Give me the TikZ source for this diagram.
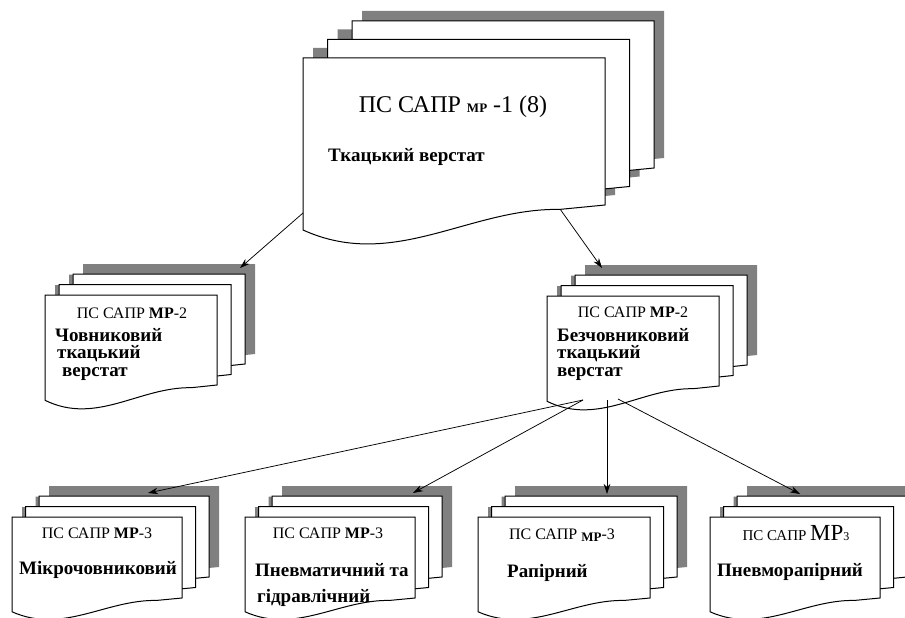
\documentclass[tikz,border=0pt]{standalone}
\usepackage{fontspec}
\setmainfont{Liberation Serif}
\usetikzlibrary{arrows.meta}
\definecolor{shade}{RGB}{128,128,128}
\tikzset{
  shadowfill/.style={fill=shade},
  sheetfill/.style={fill=white,draw=black,line width=1pt,line join=miter},
  link/.style={draw=black,line width=0.75pt,-{Stealth[length=10pt,width=6.5pt]}},
  codetext/.style={inner sep=0pt,font=\fontsize{16}{18}\selectfont},
  labeltext/.style={inner sep=0pt,anchor=west,font=\bfseries\fontsize{19}{21}\selectfont},
}
% one sheet: x y W H style
\newcommand\sheet[5]{%
  \path[#5] ({#1},{#2}) -- ({#1+#3},{#2}) -- ({#1+#3},{#2+#4})
    -- ({#1+0.85*#3},{#2+1.03*#4})
    .. controls ({#1+0.55*#3},{#2+1.02*#4}) and ({#1+0.3*#3},{#2+1.45*#4})
    .. ({#1},{#2+1.17*#4}) -- cycle;}
% stack of three sheets: x y W H dx dy(up)
\newcommand\docstack[6]{%
  \sheet{#1+2*#5+10}{#2-2*#6-10}{#3}{#4}{shadowfill}
  \sheet{#1+#5+10}{#2-#6-10}{#3}{#4}{shadowfill}
  \sheet{#1+10}{#2-10}{#3}{#4}{shadowfill}
  \sheet{#1+2*#5}{#2-2*#6}{#3}{#4}{sheetfill}
  \sheet{#1+#5}{#2-#6}{#3}{#4}{sheetfill}
  \sheet{#1}{#2}{#3}{#4}{sheetfill}}
\begin{document}
\begin{tikzpicture}[x=1pt,y=-1pt]
\useasboundingbox[fill=white] (0,0) rectangle (905,618);
% stacks
\docstack{303}{58}{302}{147}{24.5}{18.5}
\docstack{45}{295}{172}{90}{14}{10.5}
\docstack{547}{296}{172}{90}{14}{10.5}
\docstack{12}{517}{170}{81}{13.5}{10.5}
\docstack{245}{517}{170}{81}{13.5}{10.5}
\docstack{478}{517}{172}{81}{13.5}{10.5}
\docstack{710}{517}{170}{81}{13.5}{10.5}
% texts
\node[inner sep=0pt,font=\fontsize{24}{26}\selectfont] (t0a) at (453,107)
  {ПС САПР {\fontsize{13}{15}\selectfont\bfseries МР} -1 (8)};
\node[inner sep=0pt,anchor=west,font=\bfseries\fontsize{19}{21}\selectfont] (t0b) at (328,157) {Ткацький верстат};
\node[codetext] (t1a) at (132,313) {ПС САПР \textbf{МР}-2};
\node[labeltext] (t1b) at (55,335) {Човниковий};
\node[labeltext] (t1c) at (57,354) {ткацький};
\node[labeltext] (t1d) at (62,374) {верстат};
\node[codetext] (t2a) at (633,312) {ПС САПР \textbf{МР}-2};
\node[labeltext] (t2b) at (557,335) {Безчовниковий};
\node[labeltext] (t2c) at (557,354) {ткацький};
\node[labeltext] (t2d) at (557,374) {верстат};
\node[codetext] (t3a) at (97,533) {ПС САПР \textbf{МР}-3};
\node[labeltext] (t3b) at (19,570) {Мікрочовниковий};
\node[codetext] (t4a) at (328,533) {ПС САПР \textbf{МР}-3};
\node[labeltext] (t4b) at (255,570) {Пневматичний та};
\node[labeltext] (t4c) at (257,598) {гідравлічний};
\node[codetext] (t5a) at (562,535) {ПС САПР \raisebox{-2pt}{\fontsize{13}{15}\selectfont\bfseries МР}-3};
\node[labeltext] (t5b) at (507,573) {Рапірний};
\node[codetext,font=\fontsize{15}{17}\selectfont] (t6a) at (796,533) {ПС САПР {\fontsize{23}{24}\selectfont МР}{\fontsize{12}{13}\selectfont 3}};
\node[labeltext] (t6b) at (717,572) {Пневморапірний};
% connector end points
\coordinate (s0l) at (303,213);
\coordinate (s0r) at (560,209);
\coordinate (e1) at (240,268);
\coordinate (e2) at (602,268);
\coordinate (s2l) at (583,400);
\coordinate (s2m) at (607,400);
\coordinate (s2r) at (618,399);
\coordinate (e3) at (148,493);
\coordinate (e4) at (413,493);
\coordinate (e5) at (607,494);
\coordinate (e6) at (800,494);
\draw[link] (s0l) -- (e1);
\draw[link] (s0r) -- (e2);
\draw[link] (s2l) -- (e3);
\draw[link] (s2l) -- (e4);
\draw[link] (s2m) -- (e5);
\draw[link] (s2r) -- (e6);
\end{tikzpicture}
\end{document}
